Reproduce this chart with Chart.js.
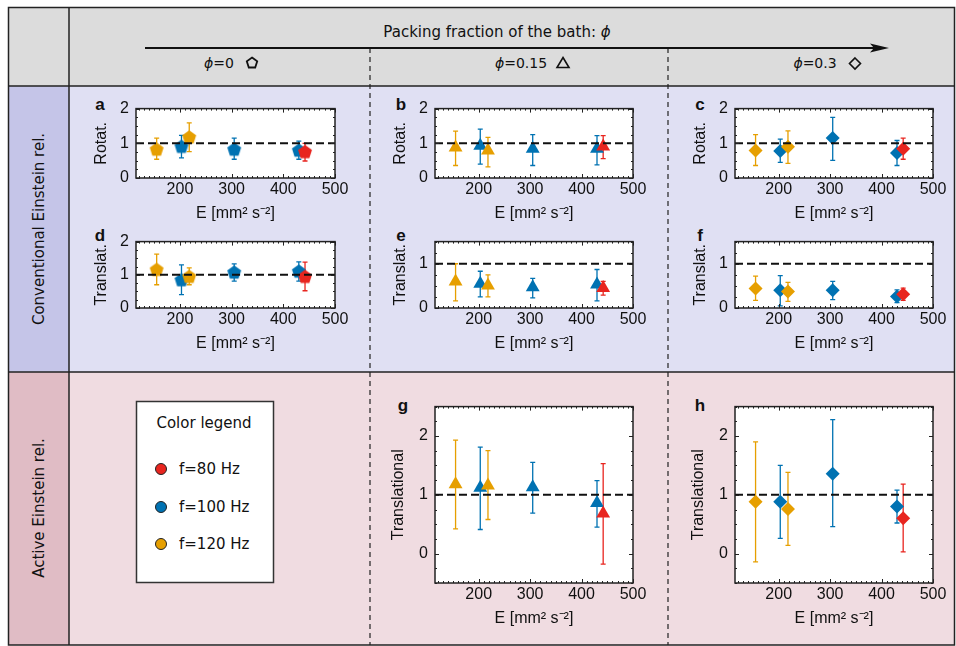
<!DOCTYPE html>
<html>
<head>
<meta charset="utf-8">
<script src="https://cdn.jsdelivr.net/npm/chart.js@4.4.0/dist/chart.umd.min.js"></script>
<style>
  body { margin: 0; background: #fff; }
  #fig { position: relative; width: 956px; height: 646px; overflow: hidden; font-family: "DejaVu Sans", sans-serif; color: #111; }
  .bg { position: absolute; }
  .txt { position: absolute; transform: translate(-50%, -50%); white-space: nowrap; }
  .rot { position: absolute; transform: translate(-50%, -50%) rotate(-90deg); white-space: nowrap; font-size: 15px; }
  .letter { position: absolute; transform: translate(-50%, -50%); font: bold 17px "Liberation Sans", sans-serif; }
  canvas { position: absolute; }
</style>
</head>
<body>
<div id="fig">
  <!-- cell backgrounds -->
  <div class="bg" style="left:8px;top:7px;width:947px;height:79px;background:#dcdcdc"></div>
  <div class="bg" style="left:8px;top:86px;width:61px;height:286px;background:#c5c5e8"></div>
  <div class="bg" style="left:69px;top:86px;width:886px;height:286px;background:#e0e0f3"></div>
  <div class="bg" style="left:8px;top:372px;width:61px;height:273px;background:#e0bcc5"></div>
  <div class="bg" style="left:69px;top:372px;width:886px;height:273px;background:#f0dce1"></div>

  <svg class="bg" style="left:0;top:0" width="956" height="646">
    <rect x="8.5" y="7.5" width="946" height="637.5" fill="none" stroke="#222" stroke-width="1.5"/>
    <line x1="69" y1="7" x2="69" y2="645" stroke="#222" stroke-width="1.5"/>
    <line x1="8" y1="86" x2="955" y2="86" stroke="#222" stroke-width="1.5"/>
    <line x1="8" y1="372" x2="955" y2="372" stroke="#222" stroke-width="1.5"/>
    <line x1="370" y1="48" x2="370" y2="645" stroke="#222" stroke-width="1.2" stroke-dasharray="5 4"/>
    <line x1="668" y1="48" x2="668" y2="645" stroke="#222" stroke-width="1.2" stroke-dasharray="5 4"/>
    <line x1="145" y1="48" x2="876" y2="48" stroke="#111" stroke-width="2"/>
    <polygon points="889,48 870,43.5 874,48 870,52.5" fill="#111"/>
    <!-- header marker symbols -->
    <polygon points="252,57.5 257.2,61.3 255.2,67.5 248.8,67.5 246.8,61.3" fill="none" stroke="#111" stroke-width="1.8"/>
    <polygon points="563,57.5 569,67.5 557,67.5" fill="none" stroke="#111" stroke-width="1.6"/>
    <polygon points="855,58 860.5,63.5 855,69 849.5,63.5" fill="none" stroke="#111" stroke-width="1.6"/>
    <!-- colour legend box -->
    <rect x="136.5" y="401.5" width="137" height="181" fill="#fff" stroke="#333" stroke-width="1.5"/>
    <circle cx="161" cy="469" r="5.5" fill="#e8251f" stroke="#222" stroke-width="1"/>
    <circle cx="161" cy="507" r="5.5" fill="#0072b2" stroke="#222" stroke-width="1"/>
    <circle cx="161" cy="544" r="5.5" fill="#e69f00" stroke="#222" stroke-width="1"/>
  </svg>

  <div class="txt" style="left:497px;top:32px;font-size:15px">Packing fraction of the bath: <i>ϕ</i></div>
  <div class="txt" style="left:219px;top:63px;font-size:14px"><i>ϕ</i>=0</div>
  <div class="txt" style="left:521px;top:63px;font-size:14px"><i>ϕ</i>=0.15</div>
  <div class="txt" style="left:815px;top:63px;font-size:14px"><i>ϕ</i>=0.3</div>

  <div class="rot" style="left:39px;top:229px">Conventional Einstein rel.</div>
  <div class="rot" style="left:39px;top:508px">Active Einstein rel.</div>

  <div class="txt" style="left:204px;top:423px;font-size:15px">Color legend</div>
  <div class="bg" style="left:179px;top:460px;font-size:15px">f=80 Hz</div>
  <div class="bg" style="left:179px;top:498px;font-size:15px">f=100 Hz</div>
  <div class="bg" style="left:179px;top:535px;font-size:15px">f=120 Hz</div>

  <div class="letter" style="left:100px;top:105px">a</div>
  <div class="letter" style="left:401px;top:105px">b</div>
  <div class="letter" style="left:700px;top:105px">c</div>
  <div class="letter" style="left:100px;top:236px">d</div>
  <div class="letter" style="left:401px;top:236px">e</div>
  <div class="letter" style="left:700px;top:236px">f</div>
  <div class="letter" style="left:403px;top:406px">g</div>
  <div class="letter" style="left:700px;top:406px">h</div>
</div>

<script>
// shared x positions (bath energy) and drive frequency of each point
const energy = [155, 203, 218, 305, 430, 442];
const freqHz = [120, 100, 120, 100, 100, 80];
const xTicks = [200, 300, 400, 500];
const yTicks = [0, 1, 2];
const yTicksShort = [0, 1];

// a: rotational, phi=0
const rotPhi0 = [0.83, 0.91, 1.18, 0.83, 0.80, 0.76];
const rotPhi0Lo = [0.54, 0.58, 0.76, 0.54, 0.54, 0.49];
const rotPhi0Hi = [1.15, 1.23, 1.59, 1.15, 1.06, 1.00];
// b: rotational, phi=0.15
const rotPhi15 = [0.88, 0.93, 0.79, 0.84, 0.84, 0.91];
const rotPhi15Lo = [0.36, 0.40, 0.32, 0.36, 0.38, 0.56];
const rotPhi15Hi = [1.35, 1.41, 1.17, 1.25, 1.22, 1.22];
// c: rotational, phi=0.3
const rotPhi30 = [0.79, 0.78, 0.90, 1.15, 0.72, 0.84];
const rotPhi30Lo = [0.36, 0.45, 0.42, 0.51, 0.36, 0.54];
const rotPhi30Hi = [1.25, 1.12, 1.36, 1.75, 1.08, 1.15];
// d: translational, phi=0
const traPhi0 = [1.16, 0.85, 0.95, 1.08, 1.11, 0.95];
const traPhi0Lo = [0.70, 0.40, 0.70, 0.81, 0.81, 0.52];
const traPhi0Hi = [1.62, 1.30, 1.21, 1.33, 1.39, 1.38];
// e: translational, phi=0.15
const traPhi15 = [0.60, 0.55, 0.51, 0.47, 0.53, 0.45];
const traPhi15Lo = [0.16, 0.25, 0.25, 0.23, 0.16, 0.29];
const traPhi15Hi = [1.00, 0.83, 0.75, 0.67, 0.87, 0.60];
// f: translational, phi=0.3
const traPhi30 = [0.44, 0.40, 0.37, 0.40, 0.26, 0.31];
const traPhi30Lo = [0.17, 0.05, 0.15, 0.19, 0.12, 0.17];
const traPhi30Hi = [0.72, 0.73, 0.58, 0.60, 0.41, 0.45];
// g: active translational, phi=0.15
const actPhi15 = [1.18, 1.12, 1.16, 1.13, 0.86, 0.68];
const actPhi15Lo = [0.42, 0.41, 0.58, 0.69, 0.45, -0.18];
const actPhi15Hi = [1.93, 1.81, 1.75, 1.55, 1.24, 1.53];
// h: active translational, phi=0.3
const actPhi30 = [0.88, 0.88, 0.76, 1.36, 0.80, 0.60];
const actPhi30Lo = [-0.14, 0.26, 0.14, 0.46, 0.52, 0.03];
const actPhi30Hi = [1.90, 1.50, 1.38, 2.28, 1.08, 1.18];

const freqColor = { 80: '#e8251f', 100: '#0072b2', 120: '#e69f00' };
const X_MIN = 115, X_MAX = 500;
const xTitle = 'E [mm\u00b2 s\u207b\u00b2]';

Chart.defaults.font.family = '"Liberation Sans", Arial, sans-serif';
Chart.defaults.font.size = 16;
Chart.defaults.color = '#111';

function pentagon(color) {
  const c = document.createElement('canvas');
  c.width = 16; c.height = 16;
  const g = c.getContext('2d');
  g.beginPath();
  for (let k = 0; k < 5; k++) {
    const a = -Math.PI / 2 + k * 2 * Math.PI / 5;
    const px = 8 + 7.3 * Math.cos(a), py = 8.5 + 7.3 * Math.sin(a);
    if (k) g.lineTo(px, py); else g.moveTo(px, py);
  }
  g.closePath();
  g.fillStyle = color;
  g.fill();
  return c;
}

// white plot area, box frame and inward ticks
const frame = {
  id: 'frame',
  beforeDraw(chart) {
    const a = chart.chartArea, ctx = chart.ctx;
    ctx.save();
    ctx.fillStyle = '#fff';
    ctx.fillRect(a.left, a.top, a.width, a.height);
    ctx.restore();
  },
  afterDatasetsDraw(chart, args, opts) {
    const a = chart.chartArea, ctx = chart.ctx;
    const x = chart.scales.x, y = chart.scales.y;
    ctx.save();
    ctx.strokeStyle = '#222';
    ctx.lineWidth = 1;
    for (let v = Math.ceil(x.min / opts.xMinor) * opts.xMinor; v <= x.max; v += opts.xMinor) {
      const len = v % 100 === 0 ? 4 : 2;
      const px = Math.round(x.getPixelForValue(v)) + 0.5;
      ctx.beginPath();
      ctx.moveTo(px, a.bottom); ctx.lineTo(px, a.bottom - len);
      ctx.moveTo(px, a.top); ctx.lineTo(px, a.top + len);
      ctx.stroke();
    }
    for (let v = Math.ceil(y.min / opts.yMinor) * opts.yMinor; v <= y.max + 1e-9; v += opts.yMinor) {
      const len = Math.abs(v - Math.round(v)) < 1e-6 ? 4 : 2;
      const py = Math.round(y.getPixelForValue(v)) + 0.5;
      ctx.beginPath();
      ctx.moveTo(a.left, py); ctx.lineTo(a.left + len, py);
      ctx.moveTo(a.right, py); ctx.lineTo(a.right - len, py);
      ctx.stroke();
    }
    ctx.lineWidth = 1.5;
    ctx.strokeRect(a.left, a.top, a.width, a.height);
    ctx.restore();
  }
};

// vertical error bars with small caps, drawn under the markers
const errorBars = {
  id: 'errorBars',
  beforeDatasetsDraw(chart) {
    const ctx = chart.ctx, x = chart.scales.x, y = chart.scales.y;
    chart.data.datasets.forEach(ds => {
      if (!ds.errLo) return;
      ds.data.forEach((p, i) => {
        const px = x.getPixelForValue(p.x);
        const top = y.getPixelForValue(ds.errHi[i]);
        const bot = y.getPixelForValue(ds.errLo[i]);
        ctx.save();
        ctx.strokeStyle = ds.pointBackgroundColor[i];
        ctx.lineWidth = 1.3;
        ctx.beginPath();
        ctx.moveTo(px, top); ctx.lineTo(px, bot);
        ctx.moveTo(px - 2.5, top); ctx.lineTo(px + 2.5, top);
        ctx.moveTo(px - 2.5, bot); ctx.lineTo(px + 2.5, bot);
        ctx.stroke();
        ctx.restore();
      });
    });
  }
};

const panels = [
  { left: 136, top: 104, w: 199, h: 74, vals: rotPhi0, lo: rotPhi0Lo, hi: rotPhi0Hi, marker: 'pentagon', ymin: 0, ymax: 2, ticks: yTicks, title: 'Rotat.', tpad: 6 },
  { left: 435, top: 104, w: 198, h: 74, vals: rotPhi15, lo: rotPhi15Lo, hi: rotPhi15Hi, marker: 'triangle', ymin: 0, ymax: 2, ticks: yTicks, title: 'Rotat.', tpad: 6 },
  { left: 735, top: 104, w: 198, h: 74, vals: rotPhi30, lo: rotPhi30Lo, hi: rotPhi30Hi, marker: 'rectRot', ymin: 0, ymax: 2, ticks: yTicks, title: 'Rotat.', tpad: 6 },
  { left: 136, top: 237, w: 199, h: 71, vals: traPhi0, lo: traPhi0Lo, hi: traPhi0Hi, marker: 'pentagon', ymin: 0, ymax: 2, ticks: yTicks, title: 'Translat.', tpad: 6 },
  { left: 435, top: 237, w: 198, h: 71, vals: traPhi15, lo: traPhi15Lo, hi: traPhi15Hi, marker: 'triangle', ymin: 0, ymax: 1.5, ticks: yTicksShort, title: 'Translat.', tpad: 6 },
  { left: 735, top: 237, w: 198, h: 71, vals: traPhi30, lo: traPhi30Lo, hi: traPhi30Hi, marker: 'rectRot', ymin: 0, ymax: 1.5, ticks: yTicksShort, title: 'Translat.', tpad: 6 },
  { left: 435, top: 402, w: 198, h: 181, vals: actPhi15, lo: actPhi15Lo, hi: actPhi15Hi, marker: 'triangle', ymin: -0.5, ymax: 2.5, ticks: yTicks, title: 'Translational', tpad: 4 },
  { left: 735, top: 402, w: 198, h: 181, vals: actPhi30, lo: actPhi30Lo, hi: actPhi30Hi, marker: 'rectRot', ymin: -0.5, ymax: 2.5, ticks: yTicks, title: 'Translational', tpad: 4 }
];

const fig = document.getElementById('fig');
const PAD_L = 50, PAD_T = 12, PAD_R = 18, PAD_B = 46;

panels.forEach(p => {
  const canvas = document.createElement('canvas');
  canvas.width = p.w + PAD_L + PAD_R;
  canvas.height = p.h + PAD_T + PAD_B;
  canvas.style.left = (p.left - PAD_L) + 'px';
  canvas.style.top = (p.top - PAD_T) + 'px';
  fig.appendChild(canvas);

  const colors = freqHz.map(f => freqColor[f]);
  let style = p.marker, radius = 7;
  if (p.marker === 'pentagon') style = colors.map(c => pentagon(c));
  if (p.marker === 'triangle') radius = 8;

  new Chart(canvas, {
    type: 'scatter',
    data: {
      datasets: [
        {
          data: [{ x: X_MIN, y: 1 }, { x: X_MAX, y: 1 }],
          showLine: true,
          borderColor: '#111',
          borderWidth: 2,
          borderDash: [8, 4],
          pointRadius: 0,
          order: 0
        },
        {
          data: energy.map((e, i) => ({ x: e, y: p.vals[i] })),
          errLo: p.lo,
          errHi: p.hi,
          pointStyle: style,
          pointRadius: radius,
          pointBackgroundColor: colors,
          pointBorderColor: colors,
          pointBorderWidth: 0,
          order: 1
        }
      ]
    },
    options: {
      responsive: false,
      animation: false,
      devicePixelRatio: 1,
      layout: { padding: { top: PAD_T, right: PAD_R, left: 0, bottom: 0 } },
      plugins: {
        legend: { display: false },
        tooltip: { enabled: false },
        frame: { xMinor: 10, yMinor: 0.25 }
      },
      scales: {
        x: {
          type: 'linear',
          min: X_MIN,
          max: X_MAX,
          grid: { display: false, drawTicks: false },
          border: { display: false },
          afterBuildTicks: s => { s.ticks = xTicks.map(v => ({ value: v })); },
          afterFit: s => { s.height = PAD_B; },
          ticks: { padding: 2, maxRotation: 0 },
          title: { display: true, text: xTitle, padding: { top: 0, bottom: 1 } }
        },
        y: {
          min: p.ymin,
          max: p.ymax,
          grid: { display: false, drawTicks: false },
          border: { display: false },
          afterBuildTicks: s => { s.ticks = p.ticks.map(v => ({ value: v })); },
          afterFit: s => { s.width = PAD_L; },
          ticks: { padding: 7 },
          title: { display: true, text: p.title, padding: { top: p.tpad, bottom: 0 } }
        }
      }
    },
    plugins: [frame, errorBars]
  });
});
</script>
</body>
</html>
